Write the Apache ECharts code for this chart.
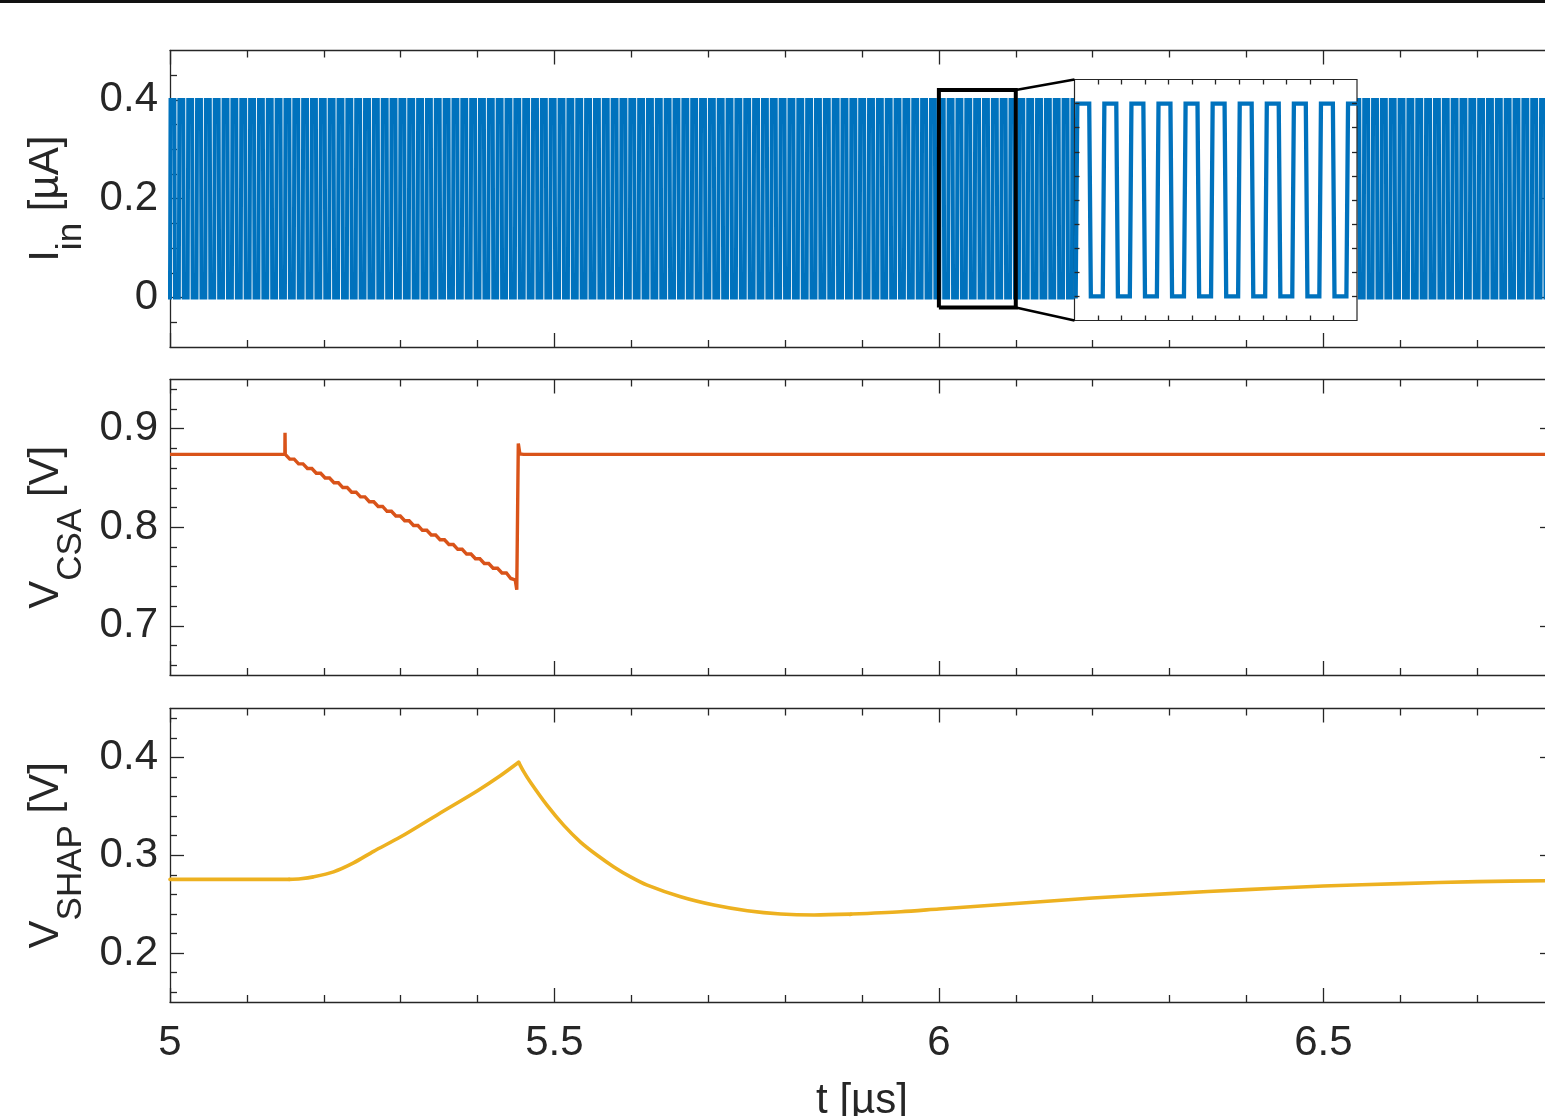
<!DOCTYPE html>
<html>
<head>
<meta charset="utf-8">
<script src="https://cdn.jsdelivr.net/npm/echarts@6/dist/echarts.min.js"></script>
<style>
  html, body { margin: 0; padding: 0; background: #fff; }
  #chart { width: 1545px; height: 1116px; }
</style>
</head>
<body>
<div id="chart"></div>
<script>
// ---- time axis (µs) ----
const timeRange = [5.0, 6.8];
const timeTickLabels = [5, 5.5, 6, 6.5];
const timeMinorTicks = [5.1, 5.2, 5.3, 5.4, 5.6, 5.7, 5.8, 5.9, 6.1, 6.2, 6.3, 6.4, 6.6, 6.7];

// ---- input current I_in (µA): periodic pulse train ----
const iinRange = [-0.1, 0.5];
const iinTickLabels = [0, 0.2, 0.4];
const iinMinorTicks = [-0.05, 0.05, 0.1, 0.15, 0.25, 0.3, 0.35, 0.45];
const iinPeriod = 0.0115;          // µs per pulse
const iinFirstEdge = 5.0;          // first rising edge
const iinPulsePhase = [0, 0.06, 0.5, 0.56];   // fraction of one period
const iinPulseLevel = [0, 0.4, 0.4, 0];       // µA

// ---- zoomed view of I_in ----
const zoomBoxTime = [6.0, 6.1];
const zoomBoxLevel = [-0.02, 0.42];
const insetRange = [6.0, 6.12];
const insetLevelRange = [-0.05, 0.45];
const insetTimeTicks = [6.01, 6.02, 6.03, 6.04, 6.05, 6.06, 6.07, 6.08, 6.09, 6.10, 6.11];
const insetLevelTicks = [0, 0.05, 0.1, 0.15, 0.2, 0.25, 0.3, 0.35, 0.4];

// ---- CSA output V_CSA (V) ----
const csaRange = [0.65, 0.95];
const csaTickLabels = [0.7, 0.8, 0.9];
const csaMinorTicks = [0.66, 0.68, 0.72, 0.74, 0.76, 0.78, 0.82, 0.84, 0.86, 0.88, 0.92, 0.94];
const csaHeadTime  = [5.0, 5.1494, 5.1496, 5.1499];
const csaHeadValue = [0.874, 0.874, 0.896, 0.874];
const csaStepStart = 5.1500;
const csaStepLevels = [0.8740, 0.8692, 0.8643, 0.8596, 0.8548, 0.8500, 0.8452, 0.8403, 0.8356,
                       0.8308, 0.8259, 0.8211, 0.8162, 0.8114, 0.8066, 0.8018, 0.7969, 0.7921,
                       0.7873, 0.7825, 0.7776, 0.7728, 0.7680, 0.7632, 0.7584, 0.7536, 0.7480];
const csaTailTime  = [5.4490, 5.4510, 5.4530, 5.4550, 5.4600, 6.8];
const csaTailValue = [0.7465, 0.7365, 0.8850, 0.8745, 0.8740, 0.8740];

// ---- shaper output V_SHAP (V): rising edge up to the peak, then the decay ----
const shapRange = [0.15, 0.45];
const shapTickLabels = [0.2, 0.3, 0.4];
const shapMinorTicks = [0.16, 0.18, 0.22, 0.24, 0.26, 0.28, 0.32, 0.34, 0.36, 0.38, 0.42, 0.44];
const shapFlatTime  = [5.0, 5.155];
const shapFlatValue = [0.2753, 0.2753];
const shapRiseTime  = [5.155, 5.17, 5.1866, 5.2127, 5.2387, 5.2648, 5.2995, 5.35, 5.40, 5.43, 5.4535];
const shapRiseValue = [0.2753, 0.2760, 0.2779, 0.2830, 0.2922, 0.3040, 0.3186, 0.3425, 0.3660, 0.3815, 0.3950];
const shapFallTime  = [5.4535, 5.46, 5.4688, 5.4905, 5.5122, 5.5339, 5.5556, 5.5773, 5.599, 5.6207, 5.6641,
                       5.7075, 5.7509, 5.7943, 5.8377, 5.8854];
const shapFallValue = [0.3950, 0.3855, 0.3746, 0.3509, 0.3305, 0.3135, 0.3000, 0.2881, 0.2779, 0.2695, 0.2576,
                       0.2491, 0.2433, 0.2400, 0.2390, 0.2398];
const shapGlitchTime  = [5.8850, 5.8858, 5.8866];
const shapGlitchValue = [0.2398, 0.2380, 0.2399];
const shapSettleTime  = [5.8862, 5.9505, 6.0, 6.1, 6.2, 6.3, 6.4, 6.5, 6.6, 6.7, 6.8];
const shapSettleValue = [0.2399, 0.2423, 0.2451, 0.2507, 0.2563, 0.2608, 0.2649, 0.2685, 0.2710, 0.2730, 0.2741];

// ---- styling ----
const FONT = '"Liberation Sans", Arial, Helvetica, sans-serif';
const INK = '#262626';
const BLUE = '#0072BD', ORANGE = '#D95319', YELLOW = '#EDB120';
const PLOT_LEFT = 170, PLOT_WIDTH = 1384;
const panels = [
  { top: 50.5, height: 296.5 },
  { top: 379.5, height: 295.5 },
  { top: 708.5, height: 293.5 }
];
const inset = { left: 1074.5, top: 79.5, width: 282.5, height: 241 };

const r6 = v => Math.round(v * 1e6) / 1e6;

// pulse train: repeat one clock period across the time window
function pulseTrain() {
  const pts = [];
  for (let k = -1; ; k++) {
    const t0 = iinFirstEdge + k * iinPeriod;
    if (t0 > timeRange[1] + iinPeriod) break;
    for (let j = 0; j < iinPulsePhase.length; j++) {
      pts.push([r6(t0 + iinPulsePhase[j] * iinPeriod), iinPulseLevel[j]]);
    }
  }
  return pts;
}
// CSA: each input pulse lowers the output by one step
function csaTrace() {
  const pts = csaHeadTime.map((t, i) => [t, csaHeadValue[i]]);
  for (let k = 0; k < csaStepLevels.length - 1; k++) {
    const t0 = csaStepStart + k * iinPeriod;
    pts.push([r6(t0), csaStepLevels[k]]);
    pts.push([r6(t0 + 0.5 * iinPeriod), csaStepLevels[k + 1]]);
  }
  csaTailTime.forEach((t, i) => pts.push([t, csaTailValue[i]]));
  return pts;
}
const pairs = (ts, vs) => ts.map((t, i) => [t, vs[i]]);
const iinTrace = pulseTrain();

const lineStyle = { color: INK, width: 1.3 };
const labelStyle = { fontSize: 42, color: INK, fontFamily: FONT };
const xAxes = [], yAxes = [];

function addX(opt) { xAxes.push(opt); return xAxes.length - 1; }
function addY(opt) { yAxes.push(opt); return yAxes.length - 1; }

function timeAxis(grid, pos, ticks, len, showLine, labels) {
  return {
    type: 'value', gridIndex: grid, position: pos, min: timeRange[0], max: timeRange[1],
    axisLine: { show: showLine, onZero: false, lineStyle },
    axisTick: { show: true, inside: true, length: len, customValues: ticks, lineStyle },
    axisLabel: Object.assign({ show: !!labels, customValues: ticks, margin: 20,
      formatter: v => String(v) }, labelStyle),
    splitLine: { show: false }, minorTick: { show: false }
  };
}
function valueAxis(grid, pos, range, ticks, len, showLine, labels) {
  return {
    type: 'value', gridIndex: grid, position: pos, min: range[0], max: range[1],
    axisLine: { show: showLine, onZero: false, lineStyle },
    axisTick: { show: true, inside: true, length: len, customValues: ticks, lineStyle },
    axisLabel: Object.assign({ show: !!labels, customValues: ticks, margin: 12,
      formatter: v => String(v) }, labelStyle),
    splitLine: { show: false }, minorTick: { show: false }
  };
}

const panelDefs = [
  { range: iinRange, labels: iinTickLabels, minors: iinMinorTicks,
    name: '{m|I}{s|in}{m| [µA]}' },
  { range: csaRange, labels: csaTickLabels, minors: csaMinorTicks,
    name: '{m|V}{s|CSA}{m| [V]}' },
  { range: shapRange, labels: shapTickLabels, minors: shapMinorTicks,
    name: '{m|V}{s|SHAP}{m| [V]}' }
];

const nameStyle = {
  rich: {
    m: { fontSize: 42, lineHeight: 84, color: INK, fontFamily: FONT },
    s: { fontSize: 35, lineHeight: 35, verticalAlign: 'bottom', color: INK, fontFamily: FONT }
  }
};

const axisIdx = panelDefs.map((p, g) => {
  const last = g === panelDefs.length - 1;
  const xb = addX(timeAxis(g, 'bottom', timeTickLabels, 14, true, last));
  if (last) {
    Object.assign(xAxes[xb], {
      name: 't [µs]', nameLocation: 'middle', nameGap: 78,
      nameTextStyle: { fontSize: 42, color: INK, fontFamily: FONT }
    });
  }
  addX(timeAxis(g, 'bottom', timeMinorTicks, 7, false, false));
  addX(timeAxis(g, 'top', timeTickLabels, 14, true, false));
  addX(timeAxis(g, 'top', timeMinorTicks, 7, false, false));
  const yl = addY(Object.assign(valueAxis(g, 'left', p.range, p.labels, 14, true, true), {
    name: p.name, nameLocation: 'middle', nameRotate: 90, nameGap: 80, nameTextStyle: nameStyle
  }));
  addY(valueAxis(g, 'left', p.range, p.minors, 7, false, false));
  addY(valueAxis(g, 'right', p.range, p.labels, 14, true, false));
  return { x: xb, y: yl };
});

// inset axes
function insetAxis(grid, pos, range, ticks) {
  return {
    type: 'value', gridIndex: grid, position: pos, min: range[0], max: range[1], z: 7,
    axisLine: { show: false, onZero: false },
    axisTick: { show: true, inside: true, length: 5, customValues: ticks, lineStyle },
    axisLabel: { show: false }, splitLine: { show: false }
  };
}
const insetX = addX(insetAxis(3, 'bottom', insetRange, insetTimeTicks));
addX(insetAxis(3, 'top', insetRange, insetTimeTicks));
const insetY = addY(insetAxis(3, 'left', insetLevelRange, insetLevelTicks));
addY(insetAxis(3, 'right', insetLevelRange, insetLevelTicks));

const grids = panels.map(p => ({
  left: PLOT_LEFT, width: PLOT_WIDTH, top: p.top, height: p.height, outerBoundsMode: 'none'
}));
grids.push({
  left: inset.left, top: inset.top, width: inset.width, height: inset.height, outerBoundsMode: 'none',
  show: true, backgroundColor: '#fff', borderColor: INK, borderWidth: 1.2, z: 5
});

function trace(id, data, ax, color, width, z, smooth, join) {
  return {
    id, type: 'line', data, xAxisIndex: ax.x, yAxisIndex: ax.y, showSymbol: false, symbol: 'none',
    smooth: smooth || false,
    lineStyle: { color, width, join: join || (smooth ? 'round' : 'miter'), cap: smooth ? 'round' : 'butt' },
    z, silent: true, clip: true
  };
}

const boxData = [
  [zoomBoxTime[0], zoomBoxLevel[0]], [zoomBoxTime[1], zoomBoxLevel[0]],
  [zoomBoxTime[1], zoomBoxLevel[1]], [zoomBoxTime[0], zoomBoxLevel[1]],
  [zoomBoxTime[0], zoomBoxLevel[0]]
];

const chart = echarts.init(document.getElementById('chart'), null, { renderer: 'canvas' });
chart.setOption({
  animation: false,
  backgroundColor: '#fff',
  textStyle: { fontFamily: FONT },
  graphic: [{ type: 'rect', left: 0, top: 0, shape: { width: 1545, height: 3 }, style: { fill: '#111' } }],
  grid: grids,
  xAxis: xAxes,
  yAxis: yAxes,
  series: [
    trace('iin', iinTrace, axisIdx[0], BLUE, 4, 2),
    trace('csa', csaTrace(), axisIdx[1], ORANGE, 3.4, 2),
    trace('shapFlat', pairs(shapFlatTime, shapFlatValue), axisIdx[2], YELLOW, 3.6, 2, 0.3),
    trace('shapRise', pairs(shapRiseTime, shapRiseValue), axisIdx[2], YELLOW, 3.6, 2, 0.3),
    trace('shapFall', pairs(shapFallTime, shapFallValue), axisIdx[2], YELLOW, 3.6, 2, 0.3),
    trace('shapGlitch', pairs(shapGlitchTime, shapGlitchValue), axisIdx[2], YELLOW, 3, 2, false, 'round'),
    trace('shapSettle', pairs(shapSettleTime, shapSettleValue), axisIdx[2], YELLOW, 3.6, 2, 0.3),
    trace('iinZoom', iinTrace, { x: insetX, y: insetY }, BLUE, 4.3, 6),
    trace('zoomBox', boxData, axisIdx[0], '#000', 4, 8),
    trace('linkTop', [], axisIdx[0], '#000', 2.5, 8),
    trace('linkBottom', [], axisIdx[0], '#000', 2.5, 8)
  ]
});

// connector lines from the zoom box to the inset corners
const finder = { xAxisIndex: axisIdx[0].x, yAxisIndex: axisIdx[0].y };
const cTop = chart.convertFromPixel(finder, [inset.left, inset.top]);
const cBot = chart.convertFromPixel(finder, [inset.left, inset.top + inset.height]);
chart.setOption({
  series: [
    { id: 'linkTop', data: [[zoomBoxTime[1], zoomBoxLevel[1]], cTop] },
    { id: 'linkBottom', data: [[zoomBoxTime[1], zoomBoxLevel[0]], cBot] }
  ]
});
</script>
</body>
</html>
